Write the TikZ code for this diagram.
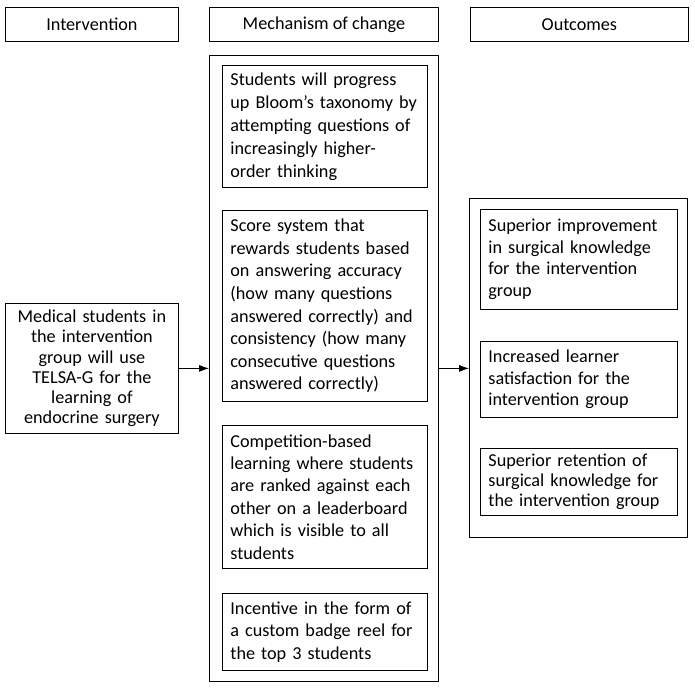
\documentclass[tikz,border=0pt]{standalone}
\usepackage{fontspec}
\setmainfont{Carlito}
\usetikzlibrary{arrows.meta}
\begin{document}
\begin{tikzpicture}[x=1pt,y=-1pt,
  every node/.style={font=\fontsize{18.2}{22.5}\selectfont},
  lsp/.style={font=\fontsize{18.2}{#1}\selectfont},
  box/.style={draw, line width=0.8pt, anchor=north west, inner xsep=8pt, inner ysep=0pt},
  leftbox/.style={box, align=left},
  midbox/.style={box, align=center},
  conn/.style={line width=0.8pt, -{Latex[length=10pt,width=7pt]}}]
\useasboundingbox (0,0) rectangle (695,687);
% headers
\node[midbox, minimum width=173pt, minimum height=34pt] (h1) at (5,7) {Intervention};
\node[midbox, minimum width=229pt, minimum height=34pt] (h2) at (209,7) {Mechanism of change};
\node[midbox, minimum width=218pt, minimum height=34pt] (h3) at (470,7) {Outcomes};
% intervention
\node[midbox, lsp=20.2, text width=157pt, minimum height=130pt] (int) at (5,303)
  {Medical students in\\the intervention\\group will use\\TELSA-G for the\\learning of\\endocrine surgery};
% mechanism container
\node[box, minimum width=229pt, minimum height=626pt] (mech) at (209,55) {};
\node[leftbox, lsp=23, text width=189pt, minimum height=122pt] (m1) at (222,65)
  {Students will progress\\up Bloom’s taxonomy by\\attempting questions of\\increasingly higher-\\order thinking};
\node[leftbox, lsp=22.6, text width=189pt, minimum height=191pt] (m2) at (222,210)
  {Score system that\\rewards students based\\on answering accuracy\\(how many questions\\answered correctly) and\\consistency (how many\\consecutive questions\\answered correctly)};
\node[leftbox, lsp=22.4, text width=189pt, minimum height=143pt] (m3) at (222,425)
  {Competition-based\\learning where students\\are ranked against each\\other on a leaderboard\\which is visible to all\\students};
\node[leftbox, lsp=22.5, text width=189pt, minimum height=77pt] (m4) at (222,593)
  {Incentive in the form of\\a custom badge reel for\\the top 3 students};
% outcomes container
\node[box, minimum width=218pt, minimum height=339pt] (out) at (469,198) {};
\node[leftbox, lsp=21.7, text width=181pt, minimum height=100pt] (o1) at (480,209)
  {Superior improvement\\in surgical knowledge\\for the intervention\\group};
\node[leftbox, lsp=21.5, text width=181pt, minimum height=76pt] (o2) at (480,341)
  {Increased learner\\satisfaction for the\\intervention group};
\node[leftbox, lsp=20, text width=181pt, minimum height=67pt] (o3) at (480,448)
  {Superior retention of\\surgical knowledge for\\the intervention group};
% connectors
\draw[conn] (int.east) -- (int.east -| mech.west);
\draw[conn] (mech.east) -- (mech.east -| out.west);
\end{tikzpicture}
\end{document}
